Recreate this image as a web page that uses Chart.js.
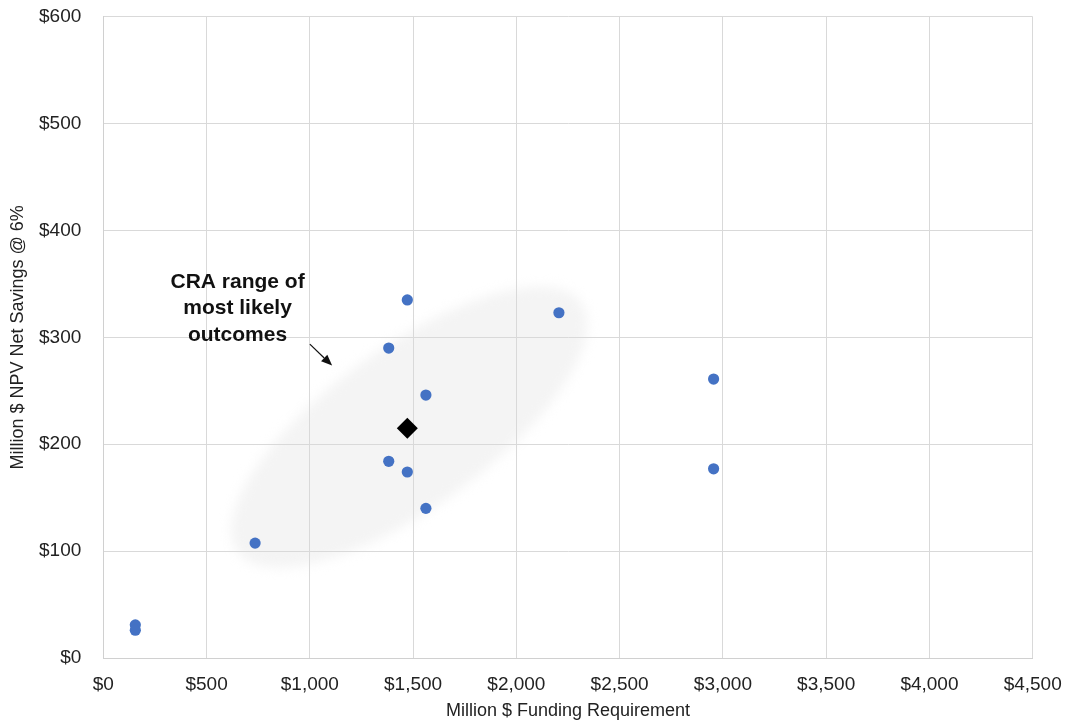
<!DOCTYPE html>
<html>
<head>
<meta charset="utf-8">
<title>Funding requirement vs NPV net savings</title>
<script src="https://cdn.jsdelivr.net/npm/chart.js@4/dist/chart.umd.min.js"></script>
<style>
  html, body { margin: 0; padding: 0; background: #ffffff; }
  #wrap { width: 1069px; height: 726px; position: relative; }
</style>
</head>
<body>
<div id="wrap"><canvas id="chart"></canvas></div>
<script>
// Scenario outcomes: funding requirement (million $) and NPV net savings @ 6% (million $)
const fundingRequirement = [155, 155, 735, 1382, 1382, 1472, 1472, 1562, 1562, 2206, 2955, 2955];
const npvNetSavings      = [31, 26, 107.5, 290, 184, 335, 174, 246, 140, 323, 261, 177];

// Central CRA estimate
const craFunding = [1472];
const craSavings = [215];

// Axis ranges and tick steps
const xTickValues = [0, 500, 1000, 1500, 2000, 2500, 3000, 3500, 4000, 4500];
const yTickValues = [0, 100, 200, 300, 400, 500, 600];

// Annotation text
const rangeLabel = ['CRA range of', 'most likely', 'outcomes'];

const FONT = '"Liberation Sans", Arial, Helvetica, sans-serif';

// Soft grey ellipse (under the grid) plus the callout label and arrow
const rangeOverlay = {
  id: 'rangeOverlay',
  beforeDraw(chart) {
    const { ctx, scales: { x, y }, chartArea } = chart;
    const cx = x.getPixelForValue(craFunding[0]);
    const cy = y.getPixelForValue(craSavings[0]);
    ctx.save();
    ctx.beginPath();
    ctx.rect(chartArea.left, chartArea.top, chartArea.right - chartArea.left, chartArea.bottom - chartArea.top);
    ctx.clip();
    ctx.filter = 'blur(6px)';
    ctx.fillStyle = '#f4f4f4';
    ctx.beginPath();
    ctx.ellipse(cx + 2, cy - 1, 212, 80, -36 * Math.PI / 180, 0, Math.PI * 2);
    ctx.fill();
    ctx.restore();
  },
  afterDatasetsDraw(chart) {
    const { ctx, scales: { x, y } } = chart;
    // label
    const lx = x.getPixelForValue(650);
    const ly = y.getPixelForValue(327);
    ctx.save();
    ctx.fillStyle = '#111111';
    ctx.font = 'bold 21px ' + FONT;
    ctx.textAlign = 'center';
    ctx.textBaseline = 'middle';
    rangeLabel.forEach((line, i) => {
      ctx.fillText(line, lx, ly + (i - 1) * 26.3);
    });
    // arrow
    const x1 = x.getPixelForValue(1000), y1 = y.getPixelForValue(293.6);
    const x2 = x.getPixelForValue(1108), y2 = y.getPixelForValue(273.6);
    const ang = Math.atan2(y2 - y1, x2 - x1);
    const head = 11, half = 4.5;
    const bx = x2 - head * Math.cos(ang), by = y2 - head * Math.sin(ang);
    ctx.strokeStyle = '#111111';
    ctx.lineWidth = 1.2;
    ctx.beginPath();
    ctx.moveTo(x1, y1);
    ctx.lineTo(bx, by);
    ctx.stroke();
    ctx.beginPath();
    ctx.moveTo(x2, y2);
    ctx.lineTo(bx + half * Math.sin(ang), by - half * Math.cos(ang));
    ctx.lineTo(bx - half * Math.sin(ang), by + half * Math.cos(ang));
    ctx.closePath();
    ctx.fillStyle = '#111111';
    ctx.fill();
    ctx.restore();
  }
};

const outcomePoints = fundingRequirement.map((v, i) => ({ x: v, y: npvNetSavings[i] }));
const craPoints = craFunding.map((v, i) => ({ x: v, y: craSavings[i] }));

new Chart(document.getElementById('chart'), {
  type: 'scatter',
  data: {
    datasets: [
      {
        label: 'Outcomes',
        data: outcomePoints,
        backgroundColor: '#4472C4',
        borderColor: '#4472C4',
        borderWidth: 0,
        pointRadius: 5.6,
        pointHoverRadius: 5.6
      },
      {
        label: 'CRA estimate',
        data: craPoints,
        pointStyle: 'rectRot',
        backgroundColor: '#000000',
        borderColor: '#000000',
        borderWidth: 0,
        pointRadius: 10.5,
        pointHoverRadius: 10.5
      }
    ]
  },
  options: {
    responsive: true,
    maintainAspectRatio: false,
    animation: false,
    layout: { padding: { left: 0, right: 36.3, top: 16.7, bottom: 0 } },
    plugins: {
      legend: { display: false },
      tooltip: { enabled: false }
    },
    scales: {
      x: {
        type: 'linear',
        min: xTickValues[0],
        max: xTickValues[xTickValues.length - 1],
        afterBuildTicks(scale) { scale.ticks = xTickValues.map(v => ({ value: v })); },
        afterFit(scale) {
          scale.height = 68;
          scale.paddingLeft = 0;
          scale.paddingRight = 0;
        },
        grid: { color: '#d9d9d9', lineWidth: 1, drawTicks: false },
        border: { color: '#d0d0d0' },
        ticks: {
          padding: 15,
          color: '#222222',
          font: { family: FONT, size: 19 },
          maxRotation: 0,
          callback: v => '$' + Number(v).toLocaleString('en-US')
        },
        title: {
          display: true,
          text: 'Million $ Funding Requirement',
          color: '#222222',
          font: { family: FONT, size: 18 },
          padding: { top: 0, bottom: 4 }
        }
      },
      y: {
        type: 'linear',
        min: yTickValues[0],
        max: yTickValues[yTickValues.length - 1],
        afterBuildTicks(scale) { scale.ticks = yTickValues.map(v => ({ value: v })); },
        afterFit(scale) {
          scale.width = 103.3;
          scale.paddingTop = 0;
          scale.paddingBottom = 0;
        },
        grid: { color: '#d9d9d9', lineWidth: 1, drawTicks: false },
        border: { color: '#d0d0d0' },
        ticks: {
          padding: 22,
          color: '#222222',
          font: { family: FONT, size: 19 },
          callback: v => '$' + v
        },
        title: {
          display: true,
          text: 'Million $ NPV Net Savings @ 6%',
          color: '#222222',
          font: { family: FONT, size: 18 },
          padding: { top: 7, bottom: 0 }
        }
      }
    }
  },
  plugins: [rangeOverlay]
});
</script>
</body>
</html>
